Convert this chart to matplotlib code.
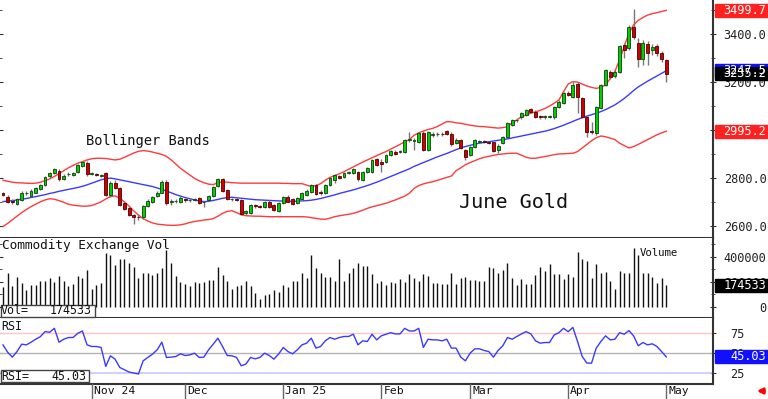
import matplotlib
matplotlib.use("Agg")
import matplotlib.pyplot as plt
from matplotlib.patches import Rectangle
import numpy as np

plt.rcParams['font.family'] = ['DejaVu Sans Mono']

# June Gold daily bars, Oct 7 2024 .. May 1 2025
opens = [2735, 2722, 2703, 2690, 2708, 2735, 2725, 2739, 2753, 2771, 2808, 2820, 2830, 2795, 2815, 2813,
         2826, 2850, 2864, 2818, 2814, 2810, 2819, 2729, 2780, 2757, 2697, 2673, 2643, 2636, 2635, 2683,
         2701, 2725, 2739, 2784, 2700, 2702, 2701, 2712, 2707, 2709, 2718, 2698, 2708, 2726, 2766, 2795,
         2750, 2711, 2709, 2708, 2652, 2653, 2684, 2682, 2680, 2701, 2687, 2663, 2697, 2722, 2711, 2695,
         2711, 2729, 2743, 2771, 2743, 2737, 2770, 2790, 2810, 2805, 2822, 2822, 2826, 2792, 2826, 2826,
         2878, 2868, 2868, 2896, 2910, 2910, 2910, 2958, 2955, 2951, 2986, 2917, 2980, 2982, 2983, 2995,
         2985, 2945, 2960, 2917, 2896, 2931, 2951, 2951, 2950, 2948, 2917, 2945, 2972, 3021, 3040, 3053,
         3063, 3087, 3077, 3057, 3054, 3055, 3053, 3098, 3112, 3156, 3139, 3192, 3132, 3056, 2995, 2986,
         3091, 3188, 3244, 3224, 3244, 3355, 3341, 3429, 3362, 3295, 3358, 3333, 3351, 3323, 3292]
highs = [2740, 2728, 2710, 2716, 2744, 2745, 2752, 2762, 2776, 2810, 2826, 2842, 2836, 2815, 2825, 2824,
         2860, 2872, 2870, 2826, 2822, 2818, 2824, 2786, 2790, 2762, 2702, 2680, 2650, 2650, 2688, 2710,
         2726, 2744, 2790, 2790, 2710, 2712, 2724, 2716, 2714, 2716, 2722, 2704, 2730, 2768, 2800, 2800,
         2754, 2718, 2716, 2712, 2664, 2692, 2690, 2688, 2705, 2706, 2692, 2700, 2726, 2728, 2716, 2720,
         2740, 2752, 2776, 2776, 2748, 2776, 2804, 2816, 2814, 2824, 2828, 2842, 2830, 2830, 2846, 2880,
         2885, 2878, 2900, 2918, 2916, 2918, 2962, 2993, 2966, 2990, 2995, 2996, 2990, 2990, 2992, 3000,
         2990, 2966, 2964, 2922, 2935, 2964, 2960, 2958, 2955, 2952, 2940, 2976, 3032, 3046, 3048, 3074,
         3088, 3092, 3082, 3064, 3062, 3062, 3102, 3124, 3160, 3162, 3202, 3200, 3138, 3062, 3035, 3102,
         3192, 3256, 3252, 3250, 3356, 3362, 3438, 3504, 3383, 3375, 3373, 3360, 3358, 3330, 3295]
lows = [2725, 2696, 2690, 2686, 2704, 2730, 2720, 2735, 2750, 2768, 2800, 2815, 2788, 2790, 2810, 2808,
        2822, 2846, 2810, 2812, 2806, 2805, 2725, 2722, 2752, 2682, 2664, 2640, 2608, 2625, 2630, 2678,
        2696, 2720, 2735, 2688, 2688, 2696, 2696, 2700, 2700, 2702, 2690, 2680, 2704, 2722, 2762, 2740,
        2708, 2704, 2702, 2646, 2646, 2650, 2676, 2674, 2676, 2676, 2662, 2658, 2692, 2698, 2686, 2690,
        2706, 2724, 2738, 2728, 2730, 2732, 2765, 2780, 2796, 2800, 2816, 2818, 2785, 2788, 2820, 2822,
        2850, 2826, 2862, 2892, 2896, 2905, 2906, 2950, 2917, 2946, 2912, 2912, 2972, 2974, 2976, 2980,
        2935, 2940, 2920, 2875, 2890, 2926, 2944, 2944, 2940, 2910, 2905, 2940, 2968, 3016, 3034, 3048,
        3058, 3072, 3050, 3048, 3046, 3050, 3048, 3094, 3108, 3140, 3134, 3070, 3050, 2970, 2985, 2979,
        3086, 3184, 3214, 3218, 3240, 3300, 3336, 3382, 3265, 3272, 3272, 3315, 3310, 3285, 3202]
closes = [2730, 2701, 2698, 2711, 2739, 2738, 2747, 2757, 2771, 2805, 2822, 2836, 2794, 2808, 2818, 2820,
          2854, 2866, 2815, 2820, 2812, 2813, 2729, 2780, 2757, 2687, 2669, 2645, 2638, 2635, 2683, 2705,
          2722, 2739, 2784, 2694, 2701, 2705, 2718, 2706, 2708, 2711, 2694, 2700, 2726, 2764, 2795, 2745,
          2712, 2713, 2708, 2650, 2660, 2687, 2683, 2680, 2701, 2680, 2666, 2697, 2722, 2701, 2690, 2716,
          2736, 2747, 2771, 2733, 2736, 2771, 2800, 2812, 2800, 2820, 2824, 2837, 2795, 2826, 2840, 2875,
          2854, 2858, 2896, 2913, 2900, 2914, 2959, 2962, 2955, 2986, 2917, 2990, 2981, 2984, 2982, 2985,
          2940, 2960, 2924, 2889, 2931, 2959, 2953, 2950, 2946, 2914, 2935, 2972, 3028, 3042, 3041, 3070,
          3084, 3077, 3053, 3055, 3056, 3058, 3098, 3119, 3156, 3146, 3188, 3139, 3056, 2993, 2992, 3098,
          3188, 3251, 3220, 3244, 3352, 3334, 3432, 3390, 3295, 3362, 3323, 3348, 3323, 3295, 3235.2]

bb_mid = [2701, 2703, 2705, 2708, 2711, 2714, 2718, 2722, 2726, 2730, 2735,
          2739, 2744, 2748, 2752, 2756, 2760, 2765, 2771, 2778, 2785, 2792,
          2797, 2799, 2796, 2792, 2788, 2784, 2780, 2776, 2772, 2768, 2764,
          2758, 2752, 2745, 2738, 2730, 2724, 2718, 2713, 2708, 2704, 2701,
          2702, 2706, 2710, 2715, 2718, 2719, 2717, 2715, 2713, 2711, 2709,
          2708, 2707, 2706, 2705, 2704, 2703, 2702, 2702, 2703, 2704, 2705,
          2707, 2710, 2714, 2719, 2724, 2729, 2735, 2740, 2745, 2750, 2756,
          2762, 2768, 2775, 2782, 2790, 2798, 2806, 2814, 2822, 2830, 2838,
          2848, 2856, 2864, 2872, 2880, 2888, 2895, 2902, 2910, 2918, 2925,
          2931, 2936, 2941, 2945, 2948, 2951, 2954, 2957, 2960, 2963, 2967,
          2971, 2975, 2979, 2983, 2987, 2991, 2995, 3000, 3006, 3013, 3020,
          3028, 3036, 3044, 3052, 3058, 3064, 3070, 3077, 3085, 3095, 3105,
          3118, 3132, 3148, 3165, 3180, 3192, 3204, 3215, 3226, 3237, 3247.5]
bb_upper = [2790, 2786, 2782, 2780, 2779, 2778, 2777, 2778, 2782, 2788, 2796,
            2806, 2818, 2830, 2842, 2852, 2861, 2868, 2875, 2880, 2882, 2882,
            2881, 2878, 2875, 2878, 2886, 2895, 2904, 2911, 2914, 2912, 2908,
            2903, 2898, 2890, 2875, 2858, 2840, 2826, 2812, 2798, 2788, 2780,
            2774, 2772, 2780, 2784, 2782, 2780, 2779, 2778, 2778, 2778, 2778,
            2778, 2778, 2778, 2778, 2778, 2777, 2777, 2776, 2776, 2776, 2770,
            2764, 2768, 2776, 2790, 2802, 2810, 2817, 2826, 2836, 2846, 2856,
            2866, 2875, 2884, 2893, 2902, 2910, 2920, 2930, 2940, 2951, 2960,
            2978, 2988, 2996, 3002, 3007, 3015, 3025, 3035, 3034, 3030, 3028,
            3024, 3020, 3017, 3015, 3014, 3012, 3010, 3008, 3010, 3014, 3030,
            3042, 3056, 3063, 3070, 3076, 3082, 3090, 3100, 3112, 3125, 3160,
            3192, 3202, 3200, 3192, 3184, 3178, 3174, 3178, 3188, 3215, 3245,
            3292, 3350, 3404, 3439, 3458, 3470, 3480, 3486, 3490, 3495, 3499.7]
bb_lower = [2597, 2610, 2625, 2640, 2655, 2668, 2680, 2690, 2700, 2708, 2713,
            2711, 2705, 2698, 2690, 2686, 2684, 2682, 2682, 2685, 2692, 2700,
            2712, 2722, 2725, 2715, 2700, 2682, 2662, 2645, 2630, 2620, 2612,
            2607, 2605, 2603, 2602, 2602, 2604, 2608, 2614, 2618, 2621, 2624,
            2626, 2630, 2640, 2652, 2660, 2663, 2655, 2646, 2642, 2641, 2640,
            2640, 2639, 2638, 2638, 2638, 2638, 2638, 2638, 2638, 2638, 2637,
            2634, 2631, 2628, 2627, 2632, 2638, 2642, 2645, 2648, 2652, 2658,
            2665, 2673, 2679, 2684, 2689, 2694, 2701, 2708, 2716, 2724, 2736,
            2756, 2768, 2775, 2780, 2784, 2790, 2796, 2802, 2808, 2830, 2842,
            2855, 2864, 2872, 2880, 2886, 2890, 2894, 2898, 2900, 2902, 2903,
            2903, 2895, 2886, 2882, 2882, 2886, 2889, 2893, 2897, 2900, 2901,
            2902, 2903, 2910, 2925, 2940, 2955, 2968, 2975, 2972, 2966, 2960,
            2945, 2935, 2925, 2931, 2940, 2950, 2960, 2970, 2980, 2988, 2995.2]

# volume in thousands of contracts
volume_k = [160, 267, 165, 240, 192, 133, 173, 173, 205, 205, 232, 195, 245, 205, 165, 181, 245, 227, 293, 147,
            173, 192, 432, 413, 333, 379, 379, 352, 320, 227, 267, 267, 253, 272, 312, 453, 347, 248, 200, 181,
            165, 200, 187, 200, 213, 213, 320, 253, 205, 147, 168, 173, 205, 165, 112, 67, 93, 107, 133, 120,
            173, 160, 205, 205, 272, 232, 413, 307, 267, 240, 240, 205, 379, 205, 267, 307, 347, 328, 325, 261,
            192, 205,
            173, 195, 192, 219, 195, 261, 232, 205, 259, 248, 187, 187, 181, 181, 267, 181, 232, 235, 213, 213,
            208, 205, 320, 307, 267, 293, 347, 227, 173, 221, 181, 181, 253, 315, 288, 339, 259, 259, 221, 259,
            240, 435, 381, 365, 227, 339, 272, 275, 205, 141, 288, 272, 272, 467, 413, 267, 267, 240, 187, 227,
            174.533]

rsi = [59.9, 50.8, 44.7, 51.6, 60.7, 59.9, 63.2, 66.9, 70.1, 76.3,
       75.5, 80.4, 63.2, 66.9, 69.0, 69.0, 74.2, 77.1, 59.9, 57.9,
       57.9, 56.7, 33.2, 46.3, 42.2, 31.9, 29.1, 26.2, 25.0, 23.8,
       40.1, 44.3, 48.4, 53.7, 63.2, 44.3, 44.7, 45.5, 48.8, 46.7,
       47.5, 49.6, 44.3, 44.7, 53.7, 60.7, 68.2, 57.9, 46.7, 46.3,
       44.3, 34.0, 36.1, 44.3, 42.6, 44.3, 49.6, 46.7, 42.2, 48.4,
       56.7, 51.6, 48.8, 53.7, 59.9, 62.0, 68.2, 55.9, 57.9, 64.9,
       69.0, 66.9, 69.0, 70.3, 70.3, 73.1, 59.9, 64.9, 64.1, 73.1,
       66.1, 71.1,
       73.1, 75.0, 73.5, 73.5, 80.4, 77.1, 77.1, 80.4, 56.7, 66.9,
       66.1, 66.1, 64.9, 66.9, 55.9, 55.9, 44.7, 40.1, 49.6, 55.0,
       55.0, 53.0, 51.6, 44.7, 53.0, 58.8, 69.0, 66.9, 70.3, 73.5,
       76.3, 73.5, 64.9, 62.0, 62.8, 62.8, 72.2, 75.0, 80.4, 76.3,
       81.6, 64.1, 45.5, 37.3, 37.3, 55.9, 64.1, 71.1, 66.1, 66.9,
       75.0, 73.1, 77.6, 71.1, 58.8, 62.8, 59.9, 61.2, 57.9, 51.6,
       45.03]

month_labels = ['Nov 24', 'Dec', 'Jan 25', 'Feb', 'Mar', 'Apr', 'May']
month_start = [19, 39, 60, 81, 100, 121, 142]

W, H = 768, 399
fig = plt.figure(figsize=(W / 100, H / 100), dpi=100)
fig.patch.set_facecolor('white')


def px_axes(top, bottom):
    return fig.add_axes([0, 1 - bottom / H, 713 / W, (bottom - top) / H])


ax_p = px_axes(0, 238)
ax_v = px_axes(238, 318)
ax_r = px_axes(318, 384)

x = np.arange(len(closes))
o = np.array(opens, float)
c = np.array(closes, float)
hi = np.array(highs, float)
lo = np.array(lows, float)
vol = np.array(volume_k) * 1000

for ax in (ax_p, ax_v, ax_r):
    ax.set_xlim(-0.64, 152.0)
    ax.set_facecolor('white')
    for s in ('top', 'left'):
        ax.spines[s].set_visible(False)
    for s in ('right', 'bottom'):
        ax.spines[s].set_color('#333333')
        ax.spines[s].set_linewidth(1.5)
    ax.set_xticks([])
    ax.yaxis.tick_right()
    ax.tick_params(axis='y', which='both', left=True, right=True, direction='inout',
                   color='#333333', labelsize=8.6, labelcolor='#222222')
    ax.tick_params(axis='y', which='major', length=5)
    ax.tick_params(axis='y', which='minor', length=3)

# price panel
ax_p.set_ylim(2549, 3543)
ax_p.plot(x, bb_upper, color='#ff3a3a', lw=1)
ax_p.plot(x, bb_lower, color='#ff3a3a', lw=1)
ax_p.plot(x, bb_mid, color='#3a3aff', lw=1)
ax_p.vlines(x, lo, hi, color='#777777', lw=1, zorder=3)
up = c >= o
body = np.maximum(np.abs(c - o), 2.5)
ax_p.bar(x[up], body[up], bottom=np.minimum(o, c)[up], width=0.62,
         color='#00d000', edgecolor='#104010', lw=0.6, zorder=4)
ax_p.bar(x[~up], body[~up], bottom=np.minimum(o, c)[~up], width=0.62,
         color='#d00000', edgecolor='#500000', lw=0.6, zorder=4)
ax_p.set_yticks([2600, 2800, 3000, 3200, 3400])
ax_p.set_yticklabels(['%.1f' % v for v in [2600, 2800, 3000, 3200, 3400]])
ax_p.set_yticks(np.arange(2600, 3541, 100), minor=True)
ax_p.tick_params(axis='y', pad=36)
for t in ax_p.get_yticklabels():
    t.set_ha('right')
ax_p.text(86 / 713, 1 - 141 / 238, 'Bollinger Bands', transform=ax_p.transAxes,
          fontsize=9.9, va='center', ha='left', color='#111111')
ax_p.text(459 / 713, 1 - 203 / 238, 'June Gold', transform=ax_p.transAxes,
          fontsize=14.5, va='center', ha='left', color='#111111')

# volume panel
ax_v.set_ylim(-87500, 548700)
ax_v.vlines(x, 0, vol, color='#111111', lw=1)
ax_v.set_yticks([0, 200000, 400000])
ax_v.set_yticklabels(['0', '200000', '400000'])
ax_v.set_yticks(np.arange(0, 540000, 100000), minor=True)
ax_v.tick_params(axis='y', pad=36)
for t in ax_v.get_yticklabels():
    t.set_ha('right')
ax_v.text(2 / 713, 1 - 8 / 80, 'Commodity Exchange Vol', transform=ax_v.transAxes,
          fontsize=9.2, va='center', ha='left', color='#111111')
ax_v.text(640 / 713, 1 - 15 / 80, 'Volume', transform=ax_v.transAxes,
          fontsize=7.7, va='center', ha='left', color='#111111')

# RSI panel
ax_r.set_ylim(11.4, 93.2)
ax_r.axhline(75, color='#ffc4c4', lw=1)
ax_r.axhline(50, color='#b4b4b4', lw=1)
ax_r.axhline(25, color='#c8c8ff', lw=1.2)
ax_r.plot(x, rsi, color='#3a3aff', lw=1)
ax_r.set_yticks([25, 50, 75])
ax_r.tick_params(axis='y', pad=10)
ax_r.text(1 / 713, 1 - 8 / 66, 'RSI', transform=ax_r.transAxes,
          fontsize=8.4, va='center', ha='left', color='#111111')


def fig_text(xp, yp, s, **kw):
    fig.text(xp / W, 1 - yp / H, s, **kw)


def left_box(top, right, label, value):
    fig.add_artist(Rectangle((0.5 / W, 1 - (top + 12) / H), right / W, 12 / H,
                             transform=fig.transFigure, facecolor='white',
                             edgecolor='#444444', lw=1, zorder=5))
    fig_text(1, top + 6, label, fontsize=8.4, va='center', ha='left', zorder=6, color='#111111')
    fig_text(right - 2, top + 6, value, fontsize=8.4, va='center', ha='right', zorder=6, color='#111111')


left_box(305, 94, 'Vol=', '%d' % round(vol[-1]))
left_box(370, 88, 'RSI=', '%.2f' % rsi[-1])


def value_box(ax, val, text, color):
    yp = ax.transData.transform((0, val))[1]
    fig.add_artist(Rectangle((715 / W, (yp - 6.5) / H), 53 / W, 13 / H,
                             transform=fig.transFigure, color=color, zorder=5))
    fig.text(766 / W, yp / H, text, color='white', ha='right', va='center',
             fontsize=8.6, zorder=6)


value_box(ax_p, bb_upper[-1], '%.1f' % bb_upper[-1], '#ff2020')
value_box(ax_p, bb_lower[-1], '%.1f' % bb_lower[-1], '#ff2020')
value_box(ax_p, bb_mid[-1], '%.1f' % bb_mid[-1], '#1010ff')
value_box(ax_p, closes[-1], '%.1f' % closes[-1], '#000000')
value_box(ax_v, vol[-1], '%d' % round(vol[-1]), '#000000')
value_box(ax_r, rsi[-1], '%.2f' % rsi[-1], '#1010ff')

# month separators along the bottom
for lab, i in zip(month_labels, month_start):
    xp = ax_r.transData.transform((i, 0))[0]
    fig.add_artist(plt.Line2D([xp / W, xp / W], [0, 15 / H], transform=fig.transFigure,
                              color='#666666', lw=1))
    fig.text((xp + 2) / W, 7.5 / H, lab, fontsize=8.2, va='center', ha='left', color='#111111')

ax_r.annotate('', xy=(754, 8), xytext=(767, 8), xycoords='figure pixels',
              textcoords='figure pixels',
              arrowprops=dict(arrowstyle='-|>', color='#ff0000', lw=2, mutation_scale=8))

fig.savefig('out.png', dpi=100, facecolor='white')
